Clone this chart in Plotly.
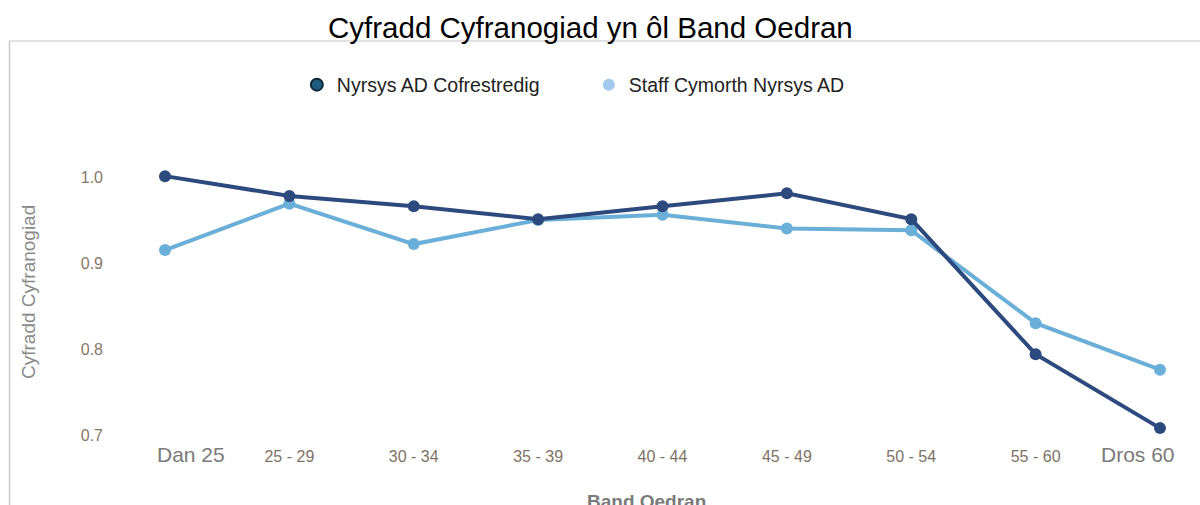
import plotly.graph_objects as go

categories = ["Dan 25", "25 - 29", "30 - 34", "35 - 39", "40 - 44", "45 - 49", "50 - 54", "55 - 60", "Dros 60"]
registered_nurses = [1.001, 0.978, 0.966, 0.951, 0.966, 0.981, 0.951, 0.794, 0.708]
support_staff = [0.915, 0.969, 0.922, 0.950, 0.956, 0.940, 0.938, 0.830, 0.776]
series_names = ["Nyrsys AD Cofrestredig", "Staff Cymorth Nyrsys AD"]
y_ticks = [0.7, 0.8, 0.9, 1.0]
y_tick_labels = ["0.7", "0.8", "0.9", "1.0"]

x_idx = list(range(len(categories)))
# end labels are drawn as annotations (shifted inward, as in the reference)
tick_text = ["" if i in (0, len(categories) - 1) else c for i, c in enumerate(categories)]

fig = go.Figure()
fig.add_trace(go.Scatter(x=x_idx, y=support_staff, mode="lines+markers",
                         line=dict(color="#6aafd8", width=4),
                         marker=dict(size=12, color="#6aafd8"), showlegend=False))
fig.add_trace(go.Scatter(x=x_idx, y=registered_nurses, mode="lines+markers",
                         line=dict(color="#2d4a7e", width=4),
                         marker=dict(size=12, color="#2d4a7e"), showlegend=False))
# legend entries
fig.add_trace(go.Scatter(x=[None], y=[None], mode="markers", name=series_names[0],
                         marker=dict(size=16, color="#1f5b7d", line=dict(color="#0d2a3a", width=2))))
fig.add_trace(go.Scatter(x=[None], y=[None], mode="markers", name=series_names[1],
                         marker=dict(size=16, color="#a3c9ec")))

L, R, T, B = 110, 10, 100, 60
px_per_cat = 124.375
x0 = -(165 - L) / px_per_cat
x1 = (1200 - R - 165) / px_per_cat
y_top = 1.0 + (177 - T) / 860
y_bot = 0.7 - ((505 - B) - 435) / 860

end_annotations = [
    dict(text=categories[0], xref="x", yref="paper", x=x_idx[0], xshift=26,
         y=-(455 - 445) / 345, showarrow=False, xanchor="center", yanchor="middle",
         font=dict(size=21, color="#7a7a7a")),
    dict(text=categories[-1], xref="x", yref="paper", x=x_idx[-1], xshift=-22,
         y=-(455 - 445) / 345, showarrow=False, xanchor="center", yanchor="middle",
         font=dict(size=21, color="#7a7a7a")),
]

fig.update_layout(
    width=1200, height=505,
    margin=dict(l=L, r=R, t=T, b=B),
    paper_bgcolor="white", plot_bgcolor="white",
    font=dict(family="Liberation Sans, Arial, sans-serif"),
    title=dict(text="Cyfradd Cyfranogiad yn ôl Band Oedran", x=0.492, xanchor="center",
               y=1 - 28 / 505, yanchor="middle",
               font=dict(size=29.5, color="#000000")),
    legend=dict(orientation="h", x=0.173, xanchor="left", y=1 + 15 / 345, yanchor="middle",
                font=dict(size=19.5, color="#222222"), entrywidth=247, itemsizing="constant",
                bgcolor="rgba(0,0,0,0)"),
    xaxis=dict(range=[x0, x1], tickmode="array", tickvals=x_idx, ticktext=tick_text,
               showgrid=False, zeroline=False, showline=False, ticks="",
               tickfont=dict(size=16, color="#7d7266")),
    yaxis=dict(range=[y_bot, y_top], tickmode="array", tickvals=y_ticks, ticktext=y_tick_labels,
               showgrid=False, zeroline=False, showline=False, ticks="",
               tickfont=dict(size=16, color="#857868"), ticklabelstandoff=6),
    shapes=[
        dict(type="line", xref="paper", yref="paper", x0=-(L - 9.5) / 1080, x1=(1200 - L) / 1080,
             y0=1 + (T - 41) / 345, y1=1 + (T - 41) / 345, line=dict(color="#d9d9d9", width=1.5)),
        dict(type="line", xref="paper", yref="paper", x0=-(L - 9.5) / 1080, x1=-(L - 9.5) / 1080,
             y0=1 + (T - 41) / 345, y1=-B / 345, line=dict(color="#c8c8c8", width=1.5)),
    ],
    annotations=[
        dict(text="Cyfradd Cyfranogiad", xref="paper", yref="paper", x=-(L - 28) / 1080,
             y=(445 - 292) / 345, textangle=-90, showarrow=False, xanchor="center", yanchor="middle",
             font=dict(size=19, color="#8a8a8a")),
        dict(text="<b>Band Oedran</b>", xref="paper", yref="paper", x=(646 - L) / 1080,
             y=-(501 - 445) / 345, showarrow=False, xanchor="center", yanchor="middle",
             font=dict(size=19, color="#7a7a7a")),
    ] + end_annotations,
)

fig.write_html("out.html", config={"displayModeBar": False},
               post_script="document.body.style.margin='0';document.body.style.padding='0';")
